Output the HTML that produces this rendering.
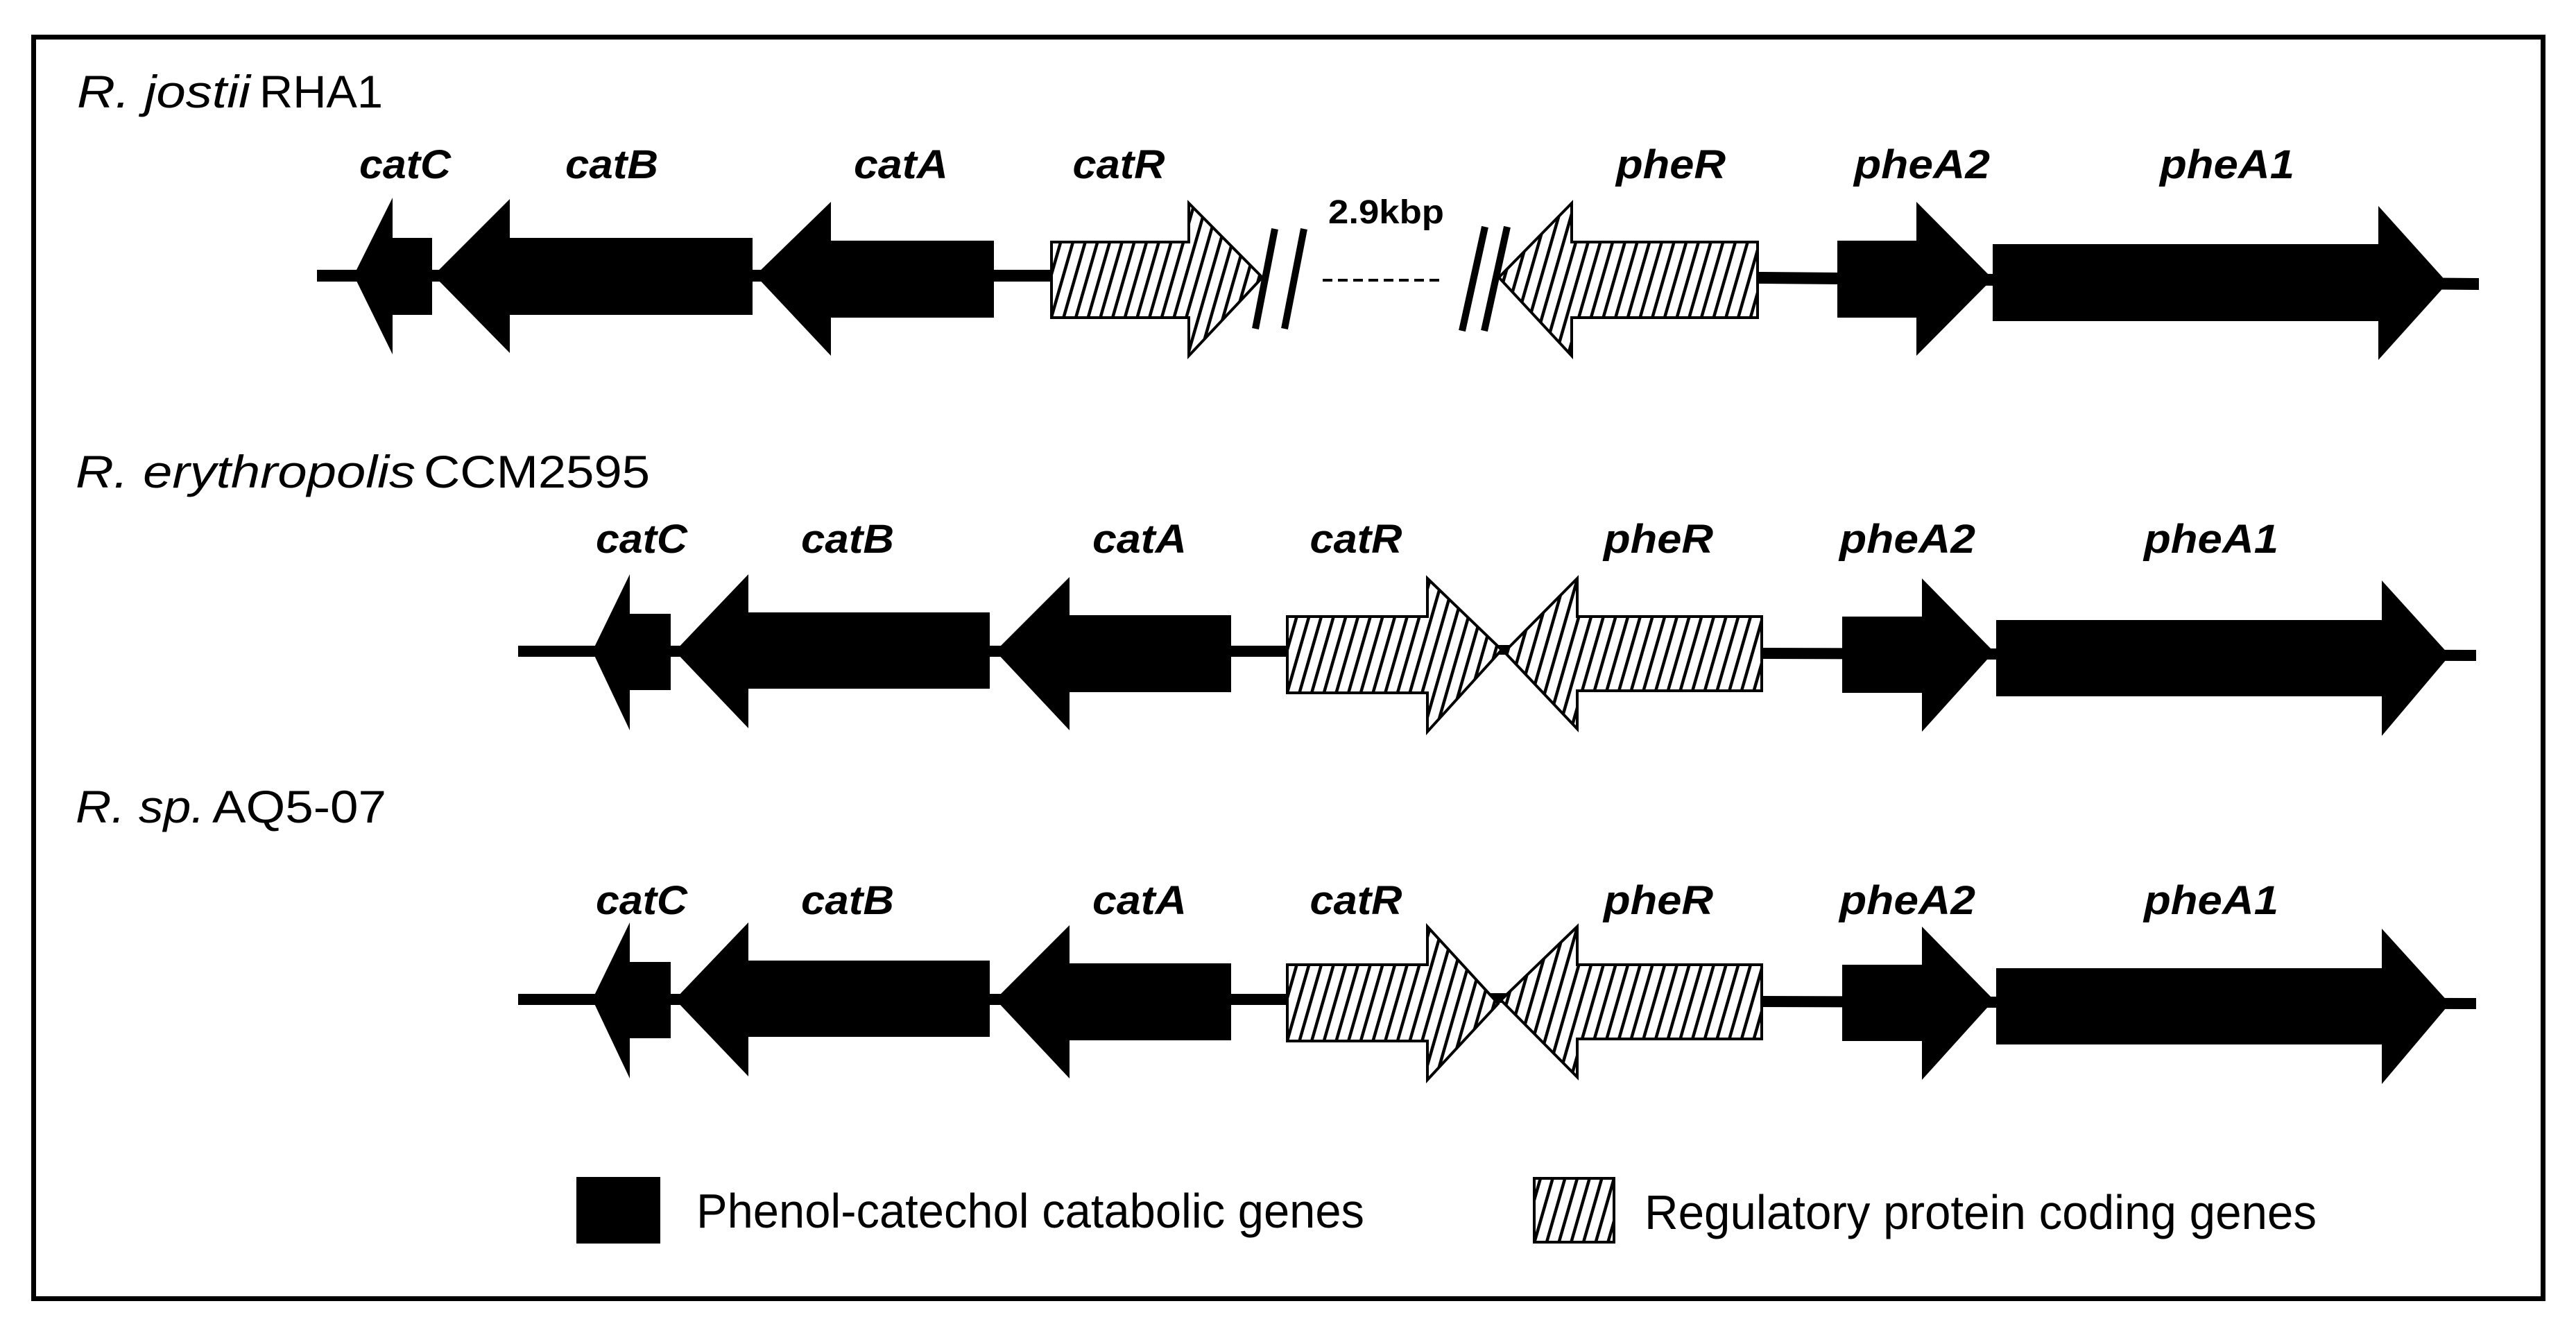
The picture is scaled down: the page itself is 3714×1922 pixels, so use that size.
<!DOCTYPE html>
<html><head><meta charset="utf-8"><style>
html,body{margin:0;padding:0;background:#fff;}
svg{display:block;}
text{font-family:"Liberation Sans",sans-serif;fill:#000;}
.g{font-weight:bold;font-style:italic;font-size:58px;}
.t{font-size:66px;}
.i{font-style:italic;}
.lg{font-size:70px;}
</style></head><body>
<svg width="3714" height="1922" viewBox="0 0 3714 1922" xmlns="http://www.w3.org/2000/svg">
<defs>
<pattern id="h" width="17" height="17" patternUnits="userSpaceOnUse" patternTransform="rotate(16)">
<rect width="17" height="17" fill="#fff"/>
<rect x="0" y="0" width="4.5" height="17" fill="#000"/>
</pattern>
</defs>
<rect x="0" y="0" width="3714" height="1922" fill="#fff"/>
<rect x="48.5" y="53.5" width="3618" height="1819" fill="none" stroke="#000" stroke-width="7"/>

<!-- Row 1 -->
<text class="t i" x="111" y="155" textLength="250" lengthAdjust="spacingAndGlyphs">R. jostii</text>
<text class="t" x="374" y="155" textLength="178" lengthAdjust="spacingAndGlyphs">RHA1</text>
<g class="g" text-anchor="middle">
<text x="584" y="257" textLength="132" lengthAdjust="spacingAndGlyphs">catC</text>
<text x="882" y="257" textLength="134" lengthAdjust="spacingAndGlyphs">catB</text>
<text x="1299" y="257" textLength="136" lengthAdjust="spacingAndGlyphs">catA</text>
<text x="1613" y="257" textLength="133" lengthAdjust="spacingAndGlyphs">catR</text>
<text x="2409" y="257" textLength="158" lengthAdjust="spacingAndGlyphs">pheR</text>
<text x="2771" y="257" textLength="196" lengthAdjust="spacingAndGlyphs">pheA2</text>
<text x="3211" y="257" textLength="194" lengthAdjust="spacingAndGlyphs">pheA1</text>
</g>
<rect x="457" y="389" width="1070" height="17"/>
<polygon points="2534,392 3574,401 3574,418 2534,409"/>
<polygon points="510,397 566,285 566,343 623,343 623,454 566,454 566,511"/>
<polygon points="625,397 735,287 735,343 1085,343 1085,454 735,454 735,509"/>
<polygon points="1089,397 1198,291 1198,347 1433,347 1433,458 1198,458 1198,513"/>
<polygon points="1516,349 1714,349 1714,293 1820,400 1714,513 1714,458 1516,458" fill="url(#h)" stroke="#000" stroke-width="4"/>
<polygon points="2161,400 2266,293 2266,349 2534,349 2534,458 2266,458 2266,513" fill="url(#h)" stroke="#000" stroke-width="4"/>
<polygon points="2649,347 2763,347 2763,291 2873,402 2763,513 2763,458 2649,458"/>
<polygon points="2873,352 3429,352 3429,297 3529,408 3429,519 3429,463 2873,463"/>
<line x1="1838" y1="330" x2="1810" y2="474" stroke="#000" stroke-width="10"/>
<line x1="1880" y1="330" x2="1852" y2="474" stroke="#000" stroke-width="10"/>
<line x1="2141" y1="327" x2="2108" y2="477" stroke="#000" stroke-width="10"/>
<line x1="2173" y1="327" x2="2140" y2="477" stroke="#000" stroke-width="10"/>
<line x1="1907" y1="404" x2="2078" y2="404" stroke="#000" stroke-width="4" stroke-dasharray="14,8"/>
<text x="1915" y="322" font-weight="bold" font-size="48" textLength="167" lengthAdjust="spacingAndGlyphs">2.9kbp</text>

<!-- Row 2 -->
<text class="t i" x="109" y="703" textLength="490" lengthAdjust="spacingAndGlyphs">R. erythropolis</text>
<text class="t" x="611" y="703" textLength="326" lengthAdjust="spacingAndGlyphs">CCM2595</text>
<g class="g" text-anchor="middle">
<text x="925" y="797" textLength="132" lengthAdjust="spacingAndGlyphs">catC</text>
<text x="1222" y="797" textLength="134" lengthAdjust="spacingAndGlyphs">catB</text>
<text x="1643" y="797" textLength="136" lengthAdjust="spacingAndGlyphs">catA</text>
<text x="1955" y="797" textLength="133" lengthAdjust="spacingAndGlyphs">catR</text>
<text x="2391" y="797" textLength="158" lengthAdjust="spacingAndGlyphs">pheR</text>
<text x="2750" y="797" textLength="196" lengthAdjust="spacingAndGlyphs">pheA2</text>
<text x="3188" y="797" textLength="194" lengthAdjust="spacingAndGlyphs">pheA1</text>
</g>
<g>
<rect x="747" y="931" width="1115" height="16"/>
<rect x="2140" y="930" width="40" height="14"/>
<polygon points="2540,934 3570,937 3570,953 2540,950"/>
<polygon points="854,939 908,828 908,885 967,885 967,995 908,995 908,1053"/>
<polygon points="973,939 1079,828 1079,883 1427,883 1427,993 1079,993 1079,1050"/>
<polygon points="1435,939 1542,832 1542,887 1775,887 1775,998 1542,998 1542,1053"/>
<polygon points="1856,889 2058,889 2058,834 2165,937 2058,1055 2058,999 1856,999" fill="url(#h)" stroke="#000" stroke-width="4"/>
<polygon points="2169,940 2274,834 2274,889 2540,889 2540,996 2274,996 2274,1051" fill="url(#h)" stroke="#000" stroke-width="4"/>
<polygon points="2656,889 2771,889 2771,834 2875,940 2771,1055 2771,999 2656,999"/>
<polygon points="2878,894 3434,894 3434,837 3532,945 3434,1061 3434,1004 2878,1004"/>
</g>

<!-- Row 3 -->
<text class="t i" x="109" y="1186" textLength="186" lengthAdjust="spacingAndGlyphs">R. sp.</text>
<text class="t" x="306" y="1186" textLength="251" lengthAdjust="spacingAndGlyphs">AQ5-07</text>
<g class="g" text-anchor="middle">
<text x="925" y="1318" textLength="132" lengthAdjust="spacingAndGlyphs">catC</text>
<text x="1222" y="1318" textLength="134" lengthAdjust="spacingAndGlyphs">catB</text>
<text x="1643" y="1318" textLength="136" lengthAdjust="spacingAndGlyphs">catA</text>
<text x="1955" y="1318" textLength="133" lengthAdjust="spacingAndGlyphs">catR</text>
<text x="2391" y="1318" textLength="158" lengthAdjust="spacingAndGlyphs">pheR</text>
<text x="2750" y="1318" textLength="196" lengthAdjust="spacingAndGlyphs">pheA2</text>
<text x="3188" y="1318" textLength="194" lengthAdjust="spacingAndGlyphs">pheA1</text>
</g>
<g transform="translate(0,502)">
<rect x="747" y="931" width="1115" height="16"/>
<rect x="2140" y="930" width="40" height="14"/>
<polygon points="2540,934 3570,937 3570,953 2540,950"/>
<polygon points="854,939 908,828 908,885 967,885 967,995 908,995 908,1053"/>
<polygon points="973,939 1079,828 1079,883 1427,883 1427,993 1079,993 1079,1050"/>
<polygon points="1435,939 1542,832 1542,887 1775,887 1775,998 1542,998 1542,1053"/>
<polygon points="1856,889 2058,889 2058,834 2160,945 2058,1055 2058,999 1856,999" fill="url(#h)" stroke="#000" stroke-width="4"/>
<polygon points="2164,940 2274,834 2274,889 2540,889 2540,996 2274,996 2274,1051" fill="url(#h)" stroke="#000" stroke-width="4"/>
<polygon points="2656,889 2771,889 2771,834 2875,940 2771,1055 2771,999 2656,999"/>
<polygon points="2878,894 3434,894 3434,837 3532,945 3434,1061 3434,1004 2878,1004"/>
</g>

<!-- Legend -->
<rect x="831" y="1697" width="121" height="96"/>
<text class="lg" x="1004" y="1770" textLength="963" lengthAdjust="spacingAndGlyphs">Phenol-catechol catabolic genes</text>
<rect x="2212" y="1699" width="115" height="92" fill="url(#h)" stroke="#000" stroke-width="4"/>
<text class="lg" x="2371" y="1772" textLength="969" lengthAdjust="spacingAndGlyphs">Regulatory protein coding genes</text>
</svg>
</body></html>
